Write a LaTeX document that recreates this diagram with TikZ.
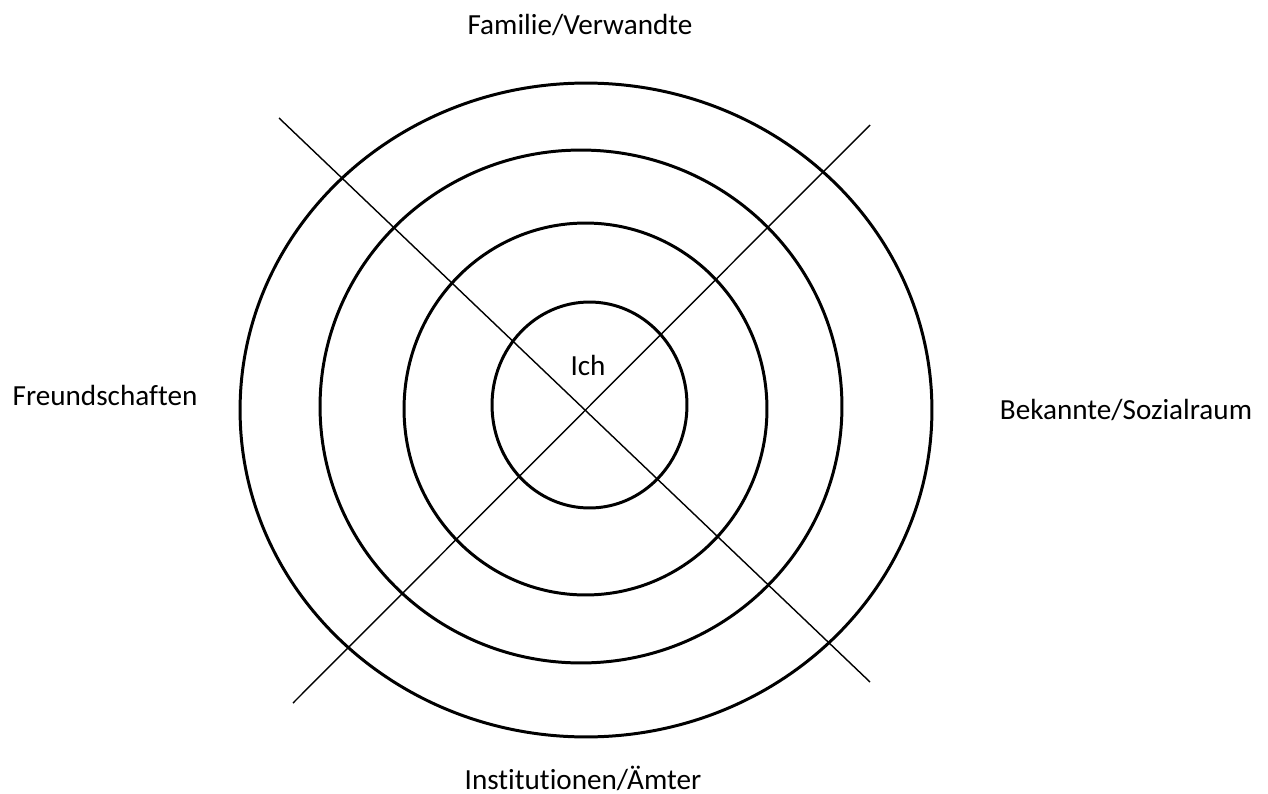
\documentclass[tikz,border=0pt]{standalone}
\usepackage{fontspec}
\setmainfont{Carlito}[Ligatures=NoCommon]
\usepackage{tikz}
\usetikzlibrary{positioning}

\begin{document}
\begin{tikzpicture}[
  x=0.02cm, y=-0.02cm,
  font=\fontsize{16.6}{20}\selectfont,
  ring/.style={draw=black, line width=1.7pt},
  axis/.style={draw=black, line width=0.8pt},
  lbl/.style={inner sep=0pt, anchor=center}
]
\useasboundingbox (0,0) rectangle (1268,794);

% ==================== Rings ====================
\draw[ring] (586,410)   ellipse [x radius=6.92cm, y radius=6.54cm];
\draw[ring] (581,406.5) ellipse [x radius=5.22cm, y radius=5.13cm];
\draw[ring] (585.5,409) ellipse [x radius=3.63cm, y radius=3.72cm];
\draw[ring] (589.5,405) ellipse [x radius=1.95cm, y radius=2.06cm];

% ==================== Diagonals ====================
\coordinate (nw) at (279,118);
\coordinate (se) at (870,682);
\coordinate (ne) at (870,125);
\coordinate (sw) at (293,703);
\draw[axis] (nw) -- (se);
\draw[axis] (ne) -- (sw);

% ==================== Labels ====================
\node[lbl] (ich)     at (588,365)  {Ich};
\node[lbl] (familie) at (580,25)   {Familie/Verwandte};
\node[lbl] (freunde) at (105,395)  {Freundschaften};
\node[lbl] (bekannt) at (1126,410) {Bekannte/Sozialraum};
\node[lbl] (amt)     at (583,778)  {Institutionen/Ämter};

\end{tikzpicture}
\end{document}
